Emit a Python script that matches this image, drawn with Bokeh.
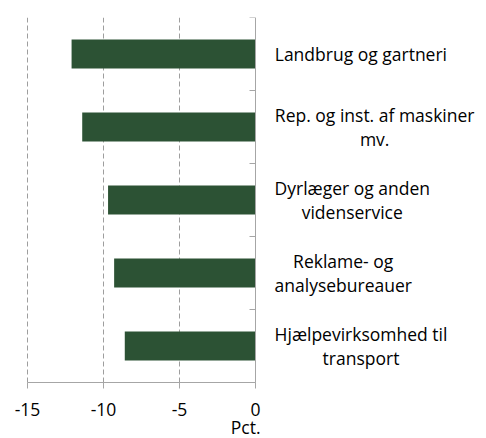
from bokeh.plotting import figure
from bokeh.models import FixedTicker, Range1d, ColumnDataSource, Label, LinearAxis
from bokeh.core.properties import value
from bokeh.embed import file_html
from bokeh.resources import INLINE

categories = [
    "Landbrug og gartneri",
    "Rep. og inst. af maskiner\nmv.",
    "Dyrlæger og anden\nvidenservice",
    "Reklame- og\nanalysebureauer",
    "Hjælpevirksomhed til\ntransport",
]
values = [-12.1, -11.4, -9.7, -9.3, -8.6]
x_ticks = [-15, -10, -5, 0]
x_tick_labels = ["-15", "-10", "-5", "0"]
x_unit = "Pct."

FONT = "Open Sans"
FS = 17.5
BAR = "#2c5234"
GRAY = "#a6a6a6"
GRID = "#9e9e9e"

W, H = 480, 438
TOP = 17
PX_PER_UNIT = 15.2
X0 = -15 - 27 / PX_PER_UNIT
X1 = X0 + W / PX_PER_UNIT

n = len(categories)
PX_PER_CAT = 73.0
Y0 = -(H - TOP - n * PX_PER_CAT) / PX_PER_CAT

# approximate Open Sans advance widths (units / 2048)
ADV = {" ": 532, "-": 659, ".": 545, "a": 1139, "b": 1255, "c": 975, "d": 1255,
       "e": 1149, "f": 694, "g": 1122, "h": 1257, "i": 518, "j": 518, "k": 1075,
       "l": 518, "m": 1905, "n": 1257, "o": 1237, "p": 1255, "r": 836, "s": 977,
       "t": 723, "u": 1257, "v": 1026, "y": 1028, "æ": 1757, "L": 1096,
       "R": 1300, "D": 1479, "H": 1516}

def text_w(s):
    return sum(ADV.get(ch, 1150) for ch in s) / 2048 * FS

y_pos = [n - i - 0.5 for i in range(n)]
label_left = 1.25
label_x = [label_left + max(text_w(l) for l in c.split("\n")) / 2 / PX_PER_UNIT for c in categories]

src = ColumnDataSource(dict(y=y_pos, left=values, right=[0] * n, label=categories, lx=label_x))

p = figure(width=W, height=H, output_backend="svg", toolbar_location=None,
           x_range=Range1d(X0, X1), y_range=Range1d(Y0, n),
           min_border_left=0, min_border_right=0, min_border_top=TOP, min_border_bottom=0,
           x_axis_location=None, y_axis_location=None)
p.outline_line_color = None
p.background_fill_color = "white"
p.border_fill_color = "white"
p.xgrid.visible = False
p.ygrid.visible = False

# dashed vertical gridlines, limited to the category area
grid_x = x_ticks[:-1]
p.segment(x0=grid_x, x1=grid_x, y0=[0] * len(grid_x), y1=[n] * len(grid_x),
          line_color=GRID, line_dash="5 3", line_width=1)

p.hbar(y="y", left="left", right="right", height=0.4, source=src,
       fill_color=BAR, line_color=None)

xa = LinearAxis(fixed_location=0, ticker=FixedTicker(ticks=x_ticks))
xa.major_label_overrides = {t: l for t, l in zip(x_ticks, x_tick_labels)}
xa.bounds = (x_ticks[0], x_ticks[-1])
xa.axis_line_color = GRAY
xa.major_tick_line_color = GRAY
xa.major_tick_out = 6
xa.major_tick_in = 0
xa.minor_tick_line_color = None
xa.major_label_text_font = FONT
xa.major_label_text_font_size = f"{FS}px"
xa.major_label_text_color = "#000000"
xa.major_label_standoff = 14
p.add_layout(xa, "below")

ya = LinearAxis(fixed_location=0, ticker=FixedTicker(ticks=list(range(n + 1))))
ya.bounds = (0, n)
ya.axis_line_color = GRAY
ya.major_tick_line_color = GRAY
ya.major_tick_out = 6
ya.major_tick_in = 0
ya.minor_tick_line_color = None
ya.major_label_text_alpha = 0
ya.major_label_text_font_size = "1px"
p.add_layout(ya, "left")

p.text(x="lx", y="y", text="label", source=src, text_font=value(FONT),
       text_font_size=f"{FS}px", text_align="center", text_baseline="middle",
       text_line_height=1.0, text_color="#000000")

p.add_layout(Label(x=0, y=12, x_units="data", y_units="screen", text=x_unit,
                   text_font=FONT, text_font_size=f"{FS}px", text_align="right",
                   text_baseline="middle", x_offset=5, text_color="#000000"))

open("out.html", "w").write(file_html(p, INLINE))
